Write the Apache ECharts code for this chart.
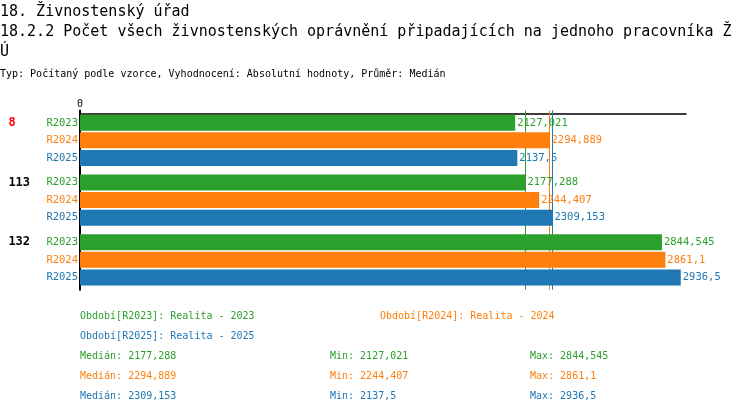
<!DOCTYPE html>
<html>
<head>
<meta charset="utf-8">
<script src="https://cdn.jsdelivr.net/npm/echarts@6/dist/echarts.min.js"></script>
<style>
  html, body { margin: 0; padding: 0; background: #fff; }
  #chart { width: 750px; height: 414px; }
</style>
</head>
<body>
<div id="chart"></div>
<script>
//----------------------Data----------------------
let group_names = ['8', '113', '132'];
let period_keys = ['R2023', 'R2024', 'R2025'];
let period_names = ['Realita - 2023', 'Realita - 2024', 'Realita - 2025'];
let values_r2023 = [2127.021, 2177.288, 2844.545];
let values_r2024 = [2294.889, 2244.407, 2861.1];
let values_r2025 = [2137.5, 2309.153, 2936.5];
let axis_max = 2962;

let period_values = [values_r2023, values_r2024, values_r2025];
let period_colors = ['#2ca02c', '#ff7f0e', '#1f77b4'];
let mono = '"DejaVu Sans Mono", "Liberation Mono", monospace';

// Get dom in html
let chart = echarts.init(document.getElementById('chart'));

function fmt(v) {
    return String(v).replace('.', ',');
}
function median(arr) {
    let s = arr.slice().sort(function (a, b) { return a - b; });
    let m = Math.floor(s.length / 2);
    return s.length % 2 ? s[m] : (s[m - 1] + s[m]) / 2;
}

//--------------------Series--------------------
let series_list = [];
for (let i = 0; i < period_keys.length; i++) {
    series_list.push({
        name: period_keys[i],
        type: 'bar',
        z: 10,
        data: period_values[i],
        barWidth: 16,
        barGap: '10%',
        itemStyle: {color: period_colors[i]},
        label: {
            show: true,
            position: 'right',
            distance: 2,
            color: period_colors[i],
            fontFamily: mono,
            fontSize: 10.5,
            formatter: function (p) { return fmt(p.value); }
        },
        markLine: {
            silent: true,
            symbol: 'none',
            z: 1,
            label: {show: false},
            lineStyle: {color: period_colors[i], type: 'solid', width: 1},
            data: [{xAxis: median(period_values[i])}]
        }
    });
}

//--------------------Axis label (rich)--------------------
let rich = {
    g: {width: 38, align: 'left', fontWeight: 'bold', fontSize: 12, color: '#000', fontFamily: mono},
    gh: {width: 38, align: 'left', fontWeight: 'bold', fontSize: 12, color: '#ff0000', fontFamily: mono}
};
for (let i = 0; i < period_keys.length; i++) {
    rich['s' + i] = {color: period_colors[i], fontSize: 10.5, fontFamily: mono, lineHeight: 17.6};
}

//--------------------Texts--------------------
let base_text = {fontWeight: 'normal', fontFamily: mono};
let texts = [
    {text: '18. Živnostenský úřad', left: 0, top: 2, padding: 0,
        textStyle: Object.assign({fontSize: 15, color: '#000', lineHeight: 20}, base_text)},
    {text: '18.2.2 Počet všech živnostenských oprávnění připadajících na jednoho pracovníka Ž\nÚ', left: 0, top: 22, padding: 0,
        textStyle: Object.assign({fontSize: 15, color: '#000', lineHeight: 20}, base_text)},
    {text: 'Typ: Počítaný podle vzorce, Vyhodnocení: Absolutní hodnoty, Průměr: Medián', left: 0, top: 68, padding: 0,
        textStyle: Object.assign({fontSize: 10, color: '#000', lineHeight: 12}, base_text)}
];
let legend_pos = [[80, 310], [380, 310], [80, 330]];
for (let i = 0; i < period_keys.length; i++) {
    let st = Object.assign({fontSize: 10, color: period_colors[i], lineHeight: 12}, base_text);
    texts.push({
        text: 'Období[' + period_keys[i] + ']: ' + period_names[i],
        left: legend_pos[i][0], top: legend_pos[i][1], padding: 0, textStyle: st
    });
    let vals = period_values[i];
    let row_top = 350 + i * 20;
    texts.push({text: 'Medián: ' + fmt(median(vals)), left: 80, top: row_top, padding: 0, textStyle: st});
    texts.push({text: 'Min: ' + fmt(Math.min.apply(null, vals)), left: 330, top: row_top, padding: 0, textStyle: st});
    texts.push({text: 'Max: ' + fmt(Math.max.apply(null, vals)), left: 530, top: row_top, padding: 0, textStyle: st});
}

//------------------Generate Graph------------------
let option = {
    backgroundColor: '#fff',
    animation: false,
    title: texts,
    grid: {left: 80, right: 64, top: 110.5, height: 179.2},
    xAxis: {
        type: 'value',
        position: 'top',
        offset: -3.5,
        min: 0,
        max: axis_max,
        interval: axis_max,
        splitLine: {show: false},
        axisTick: {show: false},
        axisLine: {show: true, lineStyle: {color: '#000', width: 1.5}},
        axisLabel: {
            margin: 5,
            color: '#000',
            fontFamily: mono,
            fontSize: 10,
            formatter: function (v) { return v === 0 ? '0' : ''; }
        }
    },
    yAxis: {
        type: 'category',
        inverse: true,
        data: group_names,
        axisTick: {show: false},
        axisLine: {show: true, lineStyle: {color: '#000', width: 2}},
        axisLabel: {
            margin: 2,
            rich: rich,
            formatter: function (v, idx) {
                let gstyle = idx === 0 ? 'gh' : 'g';
                let lines = [];
                for (let i = 0; i < period_keys.length; i++) {
                    let pre = i === 0 ? '{' + gstyle + '|' + v + '}' : '';
                    lines.push(pre + '{s' + i + '|' + period_keys[i] + '}');
                }
                return lines.join('\n');
            }
        }
    },
    series: series_list
};
chart.setOption(option);
</script>
</body>
</html>
